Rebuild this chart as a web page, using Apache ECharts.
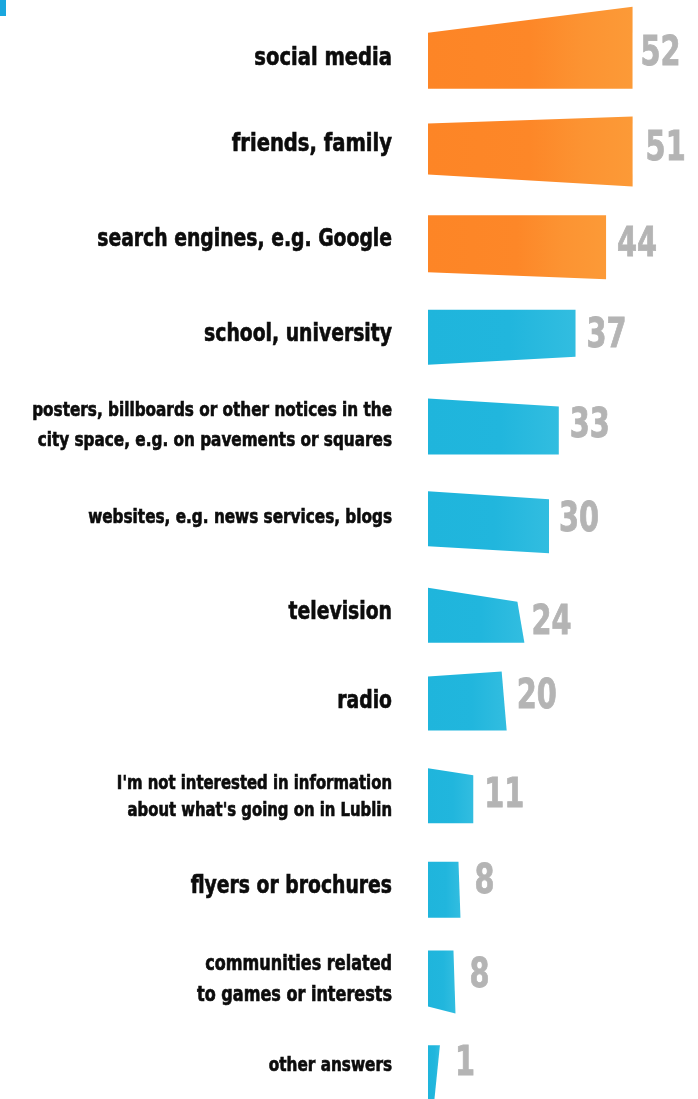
<!DOCTYPE html>
<html>
<head>
<meta charset="utf-8">
<style>
html,body{margin:0;padding:0;background:#fff;}
#chart{width:698px;height:1099px;}
</style>
<script src="https://cdn.jsdelivr.net/npm/echarts@6/dist/echarts.min.js"></script>
</head>
<body>
<div id="chart"></div>
<script>
// ---- data ----
var categories = [
  "social media",
  "friends, family",
  "search engines, e.g. Google",
  "school, university",
  "posters, billboards or other notices in the\ncity space, e.g. on pavements or squares",
  "websites, e.g. news services, blogs",
  "television",
  "radio",
  "I'm not interested in information\nabout what's going on in Lublin",
  "flyers or brochures",
  "communities related\nto games or interests",
  "other answers"
];
var values = [52, 51, 44, 37, 33, 30, 24, 20, 11, 8, 8, 1];
var highlightCount = 3;

// ---- styling (not data) ----
// category label style: [fontSize, lineHeight, dy]
var labelStyles = [
  [25, 30, 1], [25, 30, -5], [24, 30, -1], [24, 30, 2],
  [19.5, 30, 1], [19.5, 28, 2], [24, 30, 5], [24, 30, 2],
  [19, 27, 6], [24, 30, 4], [20.5, 31, 6], [19.5, 28, 0]
];
// hand-drawn bar look: [topLeftDy, topRightDy, bottomRightDy, bottomLeftDy, rightTopDx, rightBottomDx, valueDy, valueGap]
var shapes = [
  [-25, -51, 31, 31, 0, 0, -3, 8],
  [-26, -33, 37, 25, 4, 4, 0, 13],
  [-26, -26, 38, 31, 5, 5, 4, 11],
  [-23, -23, 24, 32, 2, 2, 4, 11],
  [-26, -18, 30, 30, 1, 1, 2, 11],
  [-25, -17, 37, 30, 3, 3, 4, 10],
  [-20, -6, 35, 35, -5, 2, 16, 7],
  [-23, -28, 31, 31, -5, 0, -2, 10],
  [-23, -16, 32, 32, 2, 2, 5, 11],
  [-21, -21, 35, 35, -1, 1, 0, 14],
  [-24, -24, 39, 32, -6, -4, 2, 14],
  [-21, -21, 38, 38, 8, 2, -2, 15]
];
var FONT = "'DejaVu Sans Condensed', 'DejaVu Sans', sans-serif";
var LABEL_SCALE = 0.87;
var VALUE_SCALE = 0.8;
var LABEL_MARGIN = 36;

var chart = echarts.init(document.getElementById('chart'), null, {renderer: 'canvas'});

var seriesData = values.map(function (v, i) { return [v, i]; });

function fillFor(i) {
  var orange = i < highlightCount;
  return new echarts.graphic.LinearGradient(0, 0, 1, 0, orange ? [
    {offset: 0, color: '#fd8526'},
    {offset: 0.5, color: '#fd8728'},
    {offset: 0.75, color: '#fc9332'},
    {offset: 1, color: '#fc9a37'}
  ] : [
    {offset: 0, color: '#1fb5dc'},
    {offset: 0.55, color: '#21b6dd'},
    {offset: 1, color: '#32bde0'}
  ]);
}

var option = {
  backgroundColor: '#ffffff',
  animation: false,
  grid: {left: 428, width: 236, top: 12, height: 1100, outerBoundsMode: 'none', containLabel: false},
  xAxis: {type: 'value', min: 0, max: 60, show: false},
  yAxis: {
    type: 'category',
    inverse: true,
    data: categories,
    axisLine: {show: false},
    axisTick: {show: false},
    splitLine: {show: false},
    axisLabel: {show: false}
  },
  graphic: [
    {type: 'rect', left: 0, top: 0, shape: {width: 6, height: 16}, style: {fill: '#1aa7de'}}
  ],
  series: [{
    type: 'custom',
    data: seriesData,
    encode: {x: 0, y: 1},
    clip: false,
    renderItem: function (params, api) {
      var i = params.dataIndex;
      var v = api.value(0);
      var cat = api.value(1);
      var p0 = api.coord([0, cat]);
      var p1 = api.coord([v, cat]);
      var s = shapes[i];
      var ls = labelStyles[i];
      var x0 = p0[0], x1 = p1[0], y = p0[1];
      var pts = [
        [x0, y + s[0]],
        [x1 + s[4], y + s[1]],
        [x1 + s[5], y + s[2]],
        [x0, y + s[3]]
      ];
      var right = Math.max(x1 + s[4], x1 + s[5]);
      return {
        type: 'group',
        children: [
          {type: 'polygon', shape: {points: pts}, style: {fill: fillFor(i)}},
          {
            type: 'text',
            x: right + s[7],
            y: y + s[6],
            scaleX: VALUE_SCALE,
            style: {
              text: String(v),
              x: 0, y: 0,
              verticalAlign: 'middle',
              align: 'left',
              fill: '#b4b4b4',
              stroke: '#b4b4b4',
              lineWidth: 0.8,
              font: 'bold 40px ' + FONT
            }
          },
          {
            type: 'text',
            x: x0 - LABEL_MARGIN,
            y: y + ls[2],
            scaleX: LABEL_SCALE,
            style: {
              text: categories[cat],
              x: 0, y: 0,
              align: 'right',
              verticalAlign: 'middle',
              fill: '#0c0c0c',
              stroke: '#0c0c0c',
              lineWidth: 0.6,
              font: 'bold ' + ls[0] + 'px ' + FONT,
              lineHeight: ls[1]
            }
          }
        ]
      };
    }
  }]
};
chart.setOption(option);
</script>
</body>
</html>
